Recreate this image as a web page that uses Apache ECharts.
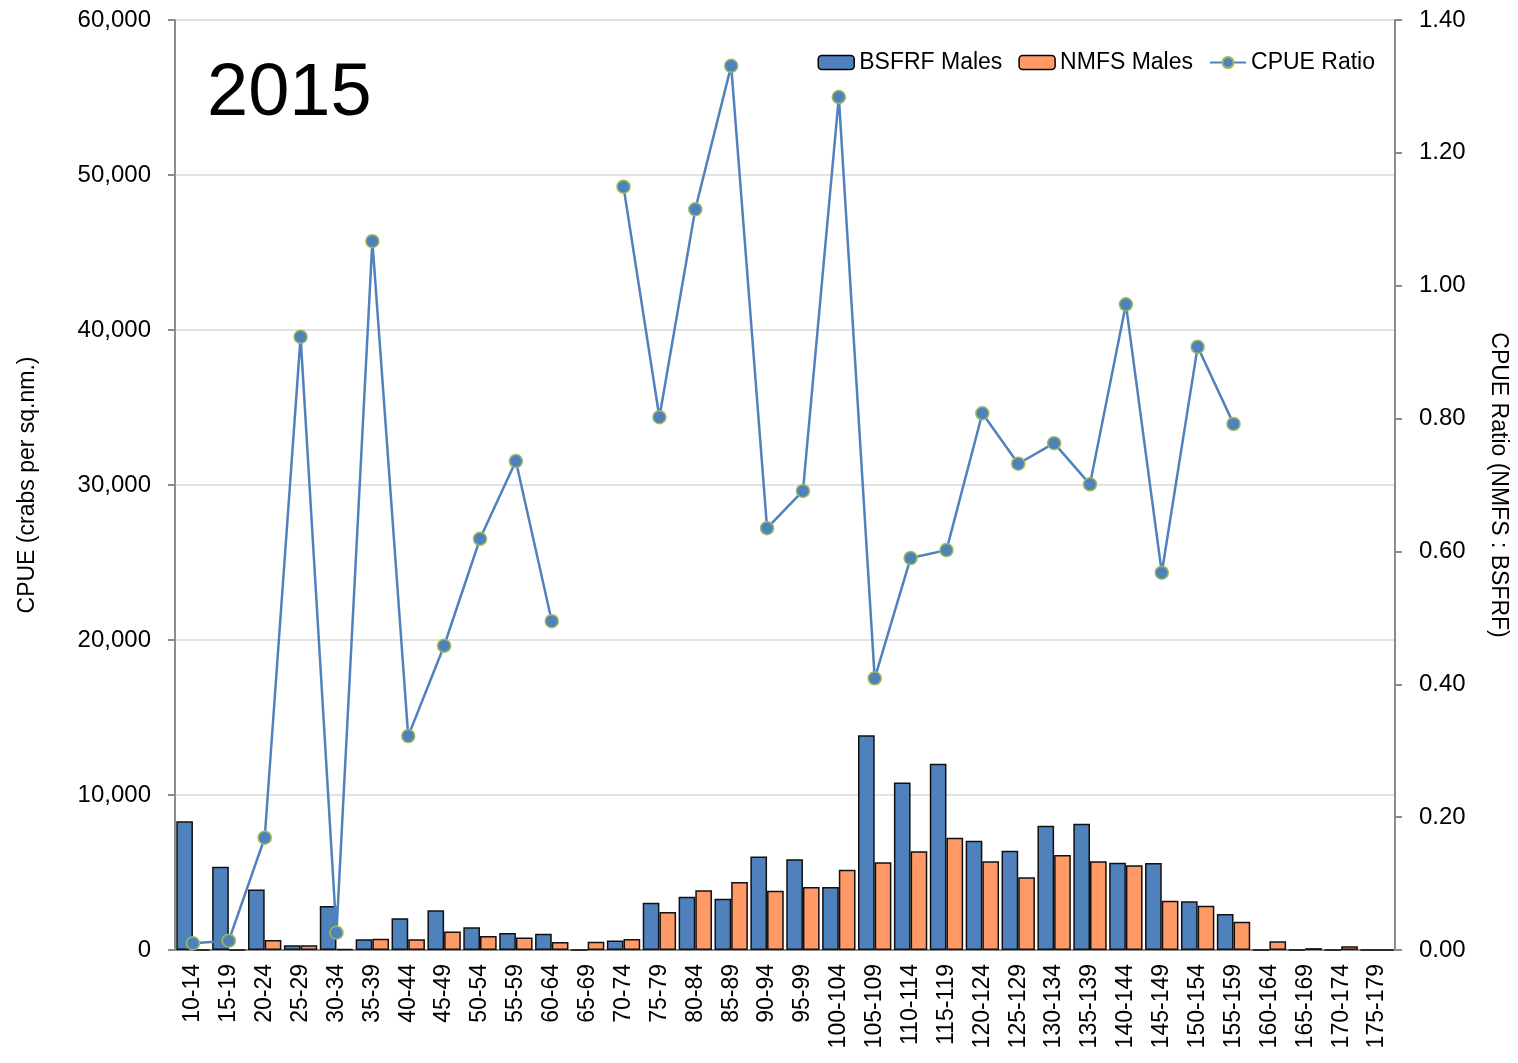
<!DOCTYPE html>
<html>
<head>
<meta charset="utf-8">
<script src="https://cdn.jsdelivr.net/npm/echarts@6/dist/echarts.min.js"></script>
<style>
  html, body { margin: 0; padding: 0; background: #fff; }
  #chart { width: 1518px; height: 1063px; }
</style>
</head>
<body>
<div id="chart"></div>
<script>
// size classes (mm)
var sizeBins = ['10-14','15-19','20-24','25-29','30-34','35-39','40-44','45-49','50-54','55-59',
  '60-64','65-69','70-74','75-79','80-84','85-89','90-94','95-99','100-104','105-109',
  '110-114','115-119','120-124','125-129','130-134','135-139','140-144','145-149','150-154','155-159',
  '160-164','165-169','170-174','175-179'];

// CPUE (crabs per sq.nm.)
var bsfrfMales = [8300, 5370, 3910, 300, 2840, 700, 2050, 2560, 1460, 1100,
  1050, 0, 620, 3050, 3440, 3310, 6040, 5850, 4060, 13850,
  10800, 12020, 7050, 6410, 8020, 8150, 5630, 5610, 3140, 2320,
  0, 0, 0, 0];
var nmfsMales = [0, 0, 650, 300, 50, 730, 690, 1200, 900, 800,
  520, 540, 710, 2450, 3850, 4390, 3830, 4060, 5180, 5660,
  6370, 7250, 5720, 4690, 6130, 5720, 5460, 3180, 2860, 1830,
  560, 120, 240, 0];

// NMFS : BSFRF
var cpueRatio = [0.01, 0.014, 0.169, 0.923, 0.026, 1.067, 0.322, 0.458, 0.619, 0.736,
  0.495, null, 1.149, 0.802, 1.115, 1.331, 0.635, 0.691, 1.284, 0.409,
  0.590, 0.602, 0.808, 0.732, 0.763, 0.701, 0.972, 0.568, 0.908, 0.792,
  null, null, null, null];

var chart = echarts.init(document.getElementById('chart'));
var font = 'Liberation Sans';
var axisGray = '#8c8c8c';

var option = {
  animation: false,
  textStyle: { fontFamily: font, color: '#000' },
  graphic: [{
    type: 'text', left: 207, top: 58,
    style: { text: '2015', font: '74px ' + font, fill: '#000' }
  }],
  legend: {
    top: 46, right: 138,
    itemWidth: 36, itemHeight: 14, itemGap: 16,
    textStyle: { fontSize: 23, color: '#000', fontFamily: font },
    data: [
      { name: 'BSFRF Males', itemStyle: { borderColor: '#000', borderWidth: 1.5 } },
      { name: 'NMFS Males', itemStyle: { borderColor: '#000', borderWidth: 1.5 } },
      { name: 'CPUE Ratio' }
    ]
  },
  grid: { left: 175, right: 123, top: 20, bottom: 113 },
  xAxis: {
    type: 'category',
    data: sizeBins,
    axisLine: { lineStyle: { color: axisGray, width: 2 } },
    axisTick: { alignWithLabel: false, length: 8, lineStyle: { color: axisGray, width: 2 } },
    axisLabel: { rotate: 90, fontSize: 23, color: '#000', margin: 14, interval: 0 }
  },
  yAxis: [{
    type: 'value', min: 0, max: 60000, interval: 10000,
    name: 'CPUE (crabs per sq.nm.)', nameLocation: 'middle', nameGap: 136,
    nameTextStyle: { fontSize: 23, color: '#000' },
    axisLine: { show: true, lineStyle: { color: axisGray, width: 2 } },
    axisTick: { show: true, length: 7, lineStyle: { color: axisGray, width: 2 } },
    axisLabel: {
      fontSize: 24, color: '#000', margin: 24,
      formatter: function (v) { return v.toLocaleString('en-US'); }
    },
    splitLine: { lineStyle: { color: '#d9d9d9', width: 1.5 } }
  }, {
    type: 'value', min: 0, max: 1.4, interval: 0.2, position: 'right',
    name: 'CPUE Ratio (NMFS : BSFRF)', nameLocation: 'middle', nameGap: 92, nameRotate: -90,
    nameTextStyle: { fontSize: 23, color: '#000' },
    axisLine: { show: true, lineStyle: { color: axisGray, width: 2 } },
    axisTick: { show: true, length: 7, lineStyle: { color: axisGray, width: 2 } },
    axisLabel: {
      fontSize: 24, color: '#000', margin: 24,
      formatter: function (v) { return v.toFixed(2); }
    },
    splitLine: { show: false }
  }],
  series: [{
    name: 'BSFRF Males', type: 'bar', data: bsfrfMales,
    barGap: '0%', barCategoryGap: '7%',
    itemStyle: { color: '#4F81BD', borderColor: '#111', borderWidth: 1.5 }
  }, {
    name: 'NMFS Males', type: 'bar', data: nmfsMales,
    itemStyle: { color: '#FF9966', borderColor: '#111', borderWidth: 1.5 }
  }, {
    name: 'CPUE Ratio', type: 'line', yAxisIndex: 1, data: cpueRatio,
    connectNulls: false,
    symbol: 'circle', symbolSize: 13,
    lineStyle: { color: '#4F81BD', width: 2.5 },
    itemStyle: { color: '#4F81BD', borderColor: '#9BBB59', borderWidth: 1.5 }
  }]
};

chart.setOption(option);
</script>
</body>
</html>
